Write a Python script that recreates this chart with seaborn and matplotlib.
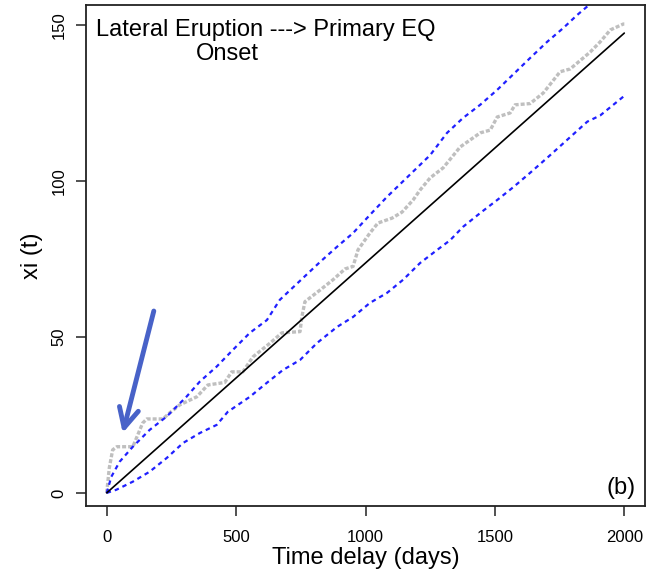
import matplotlib
matplotlib.use("Agg")
import matplotlib.pyplot as plt
import seaborn as sns

# ---- data ----
gray_days = [0, 10, 23, 39, 101, 139, 155, 217, 244, 282, 348, 391, 456, 483, 526,
             565, 631, 677, 747, 754, 766, 824, 874, 921, 952, 971, 1017, 1048, 1103,
             1141, 1184, 1211, 1250, 1300, 1366, 1443, 1482, 1509, 1559, 1578, 1636,
             1687, 1752, 1791, 1841, 1868, 1907, 1946, 1996, 2000]
gray_vals = [0, 8, 13.8, 14.8, 14.8, 22.4, 23.7, 23.7, 25.7, 28.2, 30.8, 34.6, 35.4,
             38.8, 38.8, 43.6, 48, 51.3, 51.7, 56.4, 61.3, 65, 68.3, 71.8, 72.6, 77.9,
             83.3, 86.5, 88.1, 90, 93.9, 97.1, 101, 104.2, 110.9, 115.4, 116.3, 120.5,
             121.8, 124.4, 124.8, 128.2, 135, 135.9, 139.4, 141.3, 144.6, 148.4, 150.3,
             150.3]

upper_days = [0, 18, 50, 101, 166, 232, 309, 360, 425, 487, 553, 619, 669, 824, 890,
              952, 1017, 1083, 1250, 1315, 1377, 1443, 1509, 1636, 1702, 1764, 1818, 2000]
upper_vals = [0, 5.2, 10, 14.8, 20.2, 24.5, 30.9, 35.7, 40.5, 45.8, 51.3, 55.4, 61.9,
              74, 78.9, 83.3, 89.1, 94.9, 108.3, 115.4, 120.2, 124.4, 129.2, 139.4,
              144.6, 149, 153.2, 166]

lower_days = [0, 37, 101, 166, 232, 295, 360, 425, 468, 553, 619, 681, 747, 812, 890,
              952, 1017, 1083, 1145, 1211, 1277, 1327, 1377, 1443, 1509, 1571, 1636,
              1706, 1857, 1907, 1996, 2000]
lower_vals = [0, 1, 3.6, 6.8, 11.2, 16, 19.2, 21.8, 26, 30.8, 35.3, 39.4, 42.6, 48,
              53.2, 56.4, 60.9, 64.1, 68.3, 73.7, 77.9, 81, 85.3, 89.7, 93.9, 98, 102.6,
              107.7, 119, 121, 127, 127]

mean_days = [0, 2000]
mean_vals = [0, 147.4]

arrow_tail = (182, 58.3)
arrow_head = (62, 19.2)

x_ticks = [0, 500, 1000, 1500, 2000]
y_ticks = [0, 50, 100, 150]

# ---- styling ----
sns.set_theme(style="ticks")
plt.rcParams["font.family"] = ["Liberation Sans", "DejaVu Sans"]
plt.rcParams["text.color"] = "black"
plt.rcParams["axes.labelcolor"] = "black"
plt.rcParams["xtick.color"] = "black"
plt.rcParams["ytick.color"] = "black"

W, H = 653, 575
fig = plt.figure(figsize=(W / 100, H / 100), dpi=100)
ax = fig.add_axes([86 / W, 1 - 506 / H, (645 - 86) / W, (506 - 5) / H])

sns.lineplot(x=gray_days, y=gray_vals, ax=ax, color="#bfbfbf", lw=2.4,
             linestyle=(0, (1.2, 0.6)), estimator=None, sort=False)
sns.lineplot(x=upper_days, y=upper_vals, ax=ax, color="#2020ff", lw=1.6,
             linestyle=(0, (2.0, 1.8)), estimator=None, sort=False)
sns.lineplot(x=lower_days, y=lower_vals, ax=ax, color="#2020ff", lw=1.6,
             linestyle=(0, (2.0, 1.8)), estimator=None, sort=False)
sns.lineplot(x=mean_days, y=mean_vals, ax=ax, color="black", lw=1.2,
             estimator=None, sort=False)

ax.annotate("", xy=arrow_head, xytext=arrow_tail,
            arrowprops=dict(arrowstyle="->,head_length=0.7,head_width=0.35",
                            color="#4862c8", lw=3.5, mutation_scale=20,
                            shrinkA=0, shrinkB=0))

ax.set_xlim(-80, 2080)
ax.set_ylim(-4.2, 156.4)
ax.set_xticks(x_ticks)
ax.set_yticks(y_ticks)
ax.set_xticklabels([str(v) for v in x_ticks], fontsize=12)
ax.set_yticklabels([str(v) for v in y_ticks], fontsize=12, rotation=90, va="center")
ax.tick_params(axis="both", direction="out", length=7, width=1.1, color="#222222")
ax.tick_params(axis="x", pad=10)
ax.tick_params(axis="y", pad=7)
for s in ax.spines.values():
    s.set_visible(True)
    s.set_color("#222222")
    s.set_linewidth(1.3)

ax.set_xlabel("Time delay (days)", fontsize=17, labelpad=2)
ax.set_ylabel("xi (t)", fontsize=17, labelpad=6)

fig.text(96 / W, 1 - 36 / H, "Lateral Eruption ---> Primary EQ", fontsize=17,
         ha="left", va="baseline")
fig.text(227 / W, 1 - 60 / H, "Onset", fontsize=17, ha="center", va="baseline")
fig.text(636 / W, 1 - 488 / H, "(b)", fontsize=17, ha="right", va="center")

fig.savefig("out.png", dpi=100)
